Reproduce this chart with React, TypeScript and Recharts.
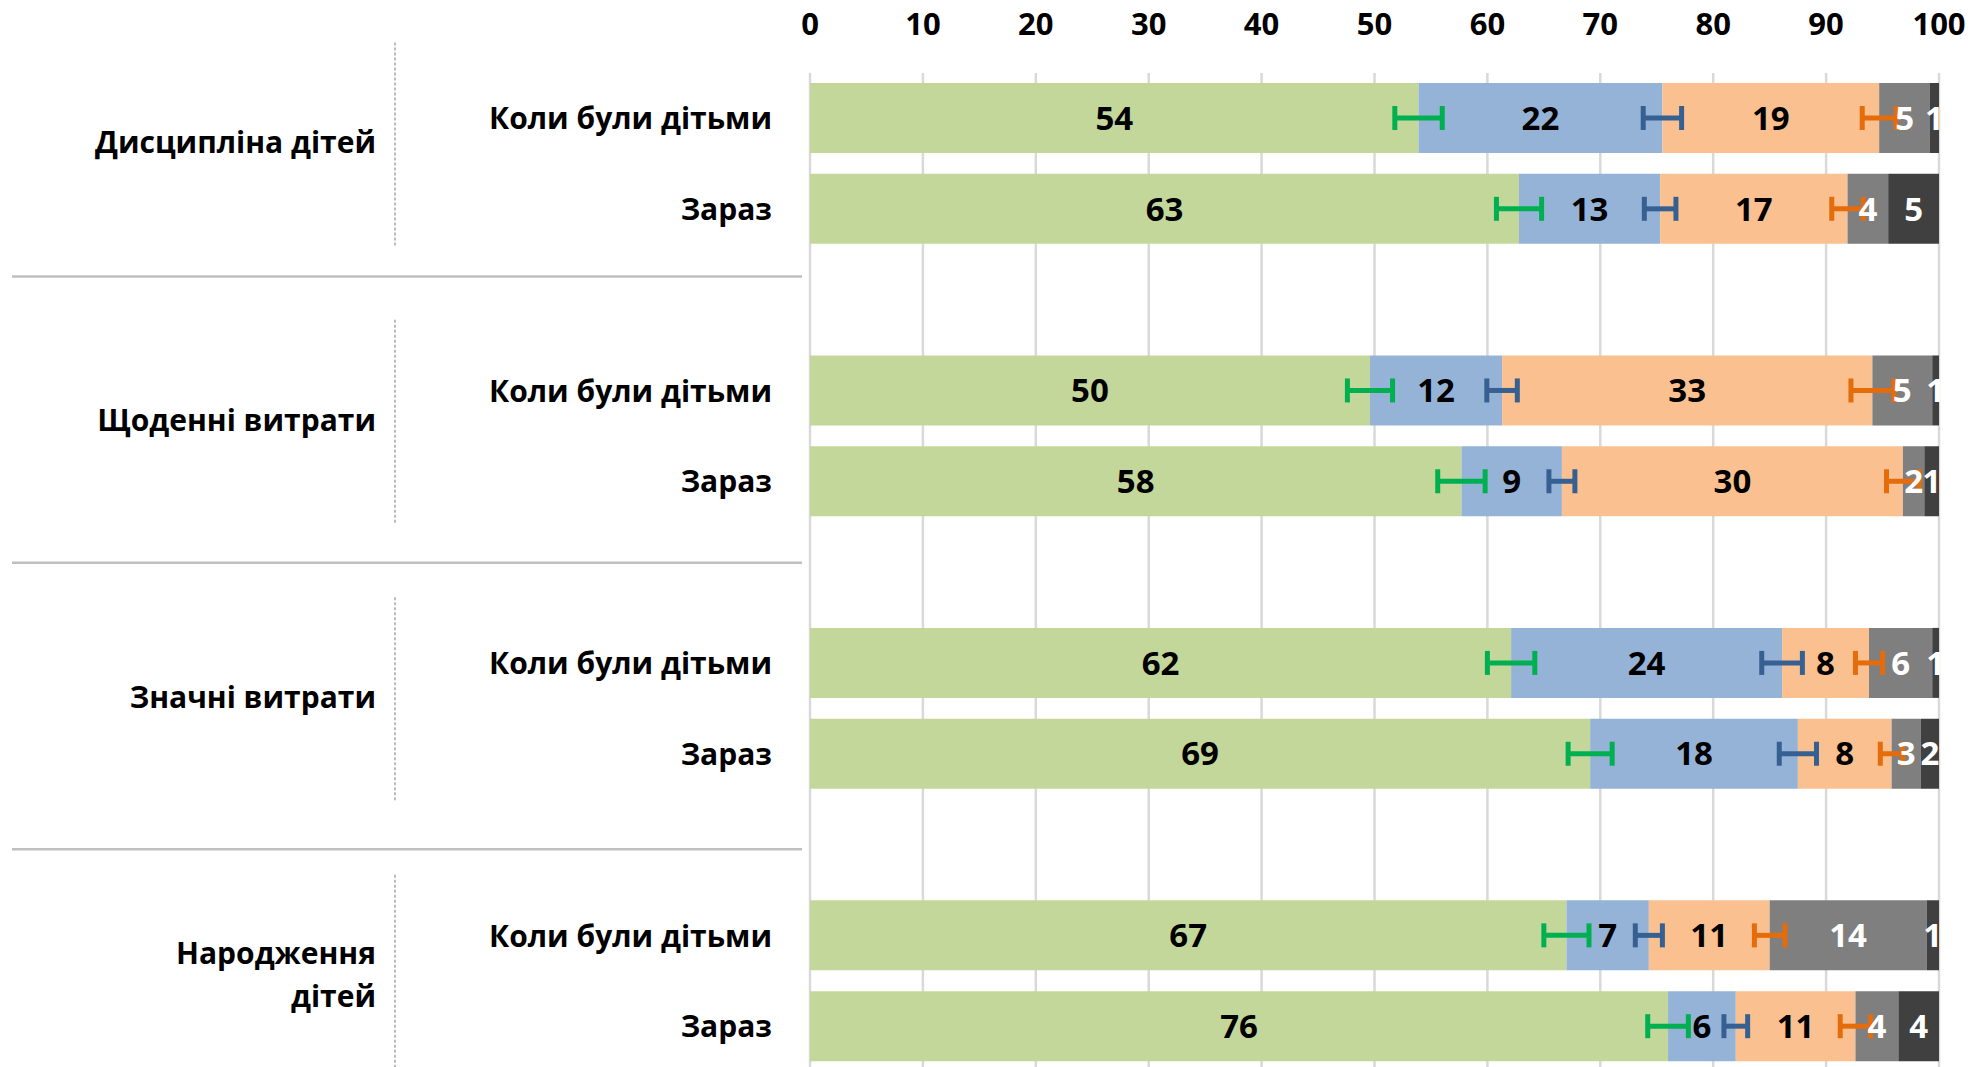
import { BarChart, Bar, XAxis, YAxis, CartesianGrid, ErrorBar, LabelList } from 'recharts';

const FONT = '"Open Sans", "Noto Sans", sans-serif';

const groups = ['Дисципліна дітей', 'Щоденні витрати', 'Значні витрати', 'Народження\nдітей'];
const periods = ['Коли були дітьми', 'Зараз'];
const xTicks = [0, 10, 20, 30, 40, 50, 60, 70, 80, 90, 100];

// values in row order: group 1 (then, now), group 2 (then, now), ...
const seriesA = [53.9, 62.8, 49.6, 57.7, 62.1, 69.1, 67.0, 76.0];
const seriesB = [21.6, 12.5, 11.7, 8.9, 24.0, 18.4, 7.3, 6.0];
const seriesC = [19.2, 16.6, 32.8, 30.2, 7.7, 8.3, 10.7, 10.6];
const seriesD = [4.5, 3.6, 5.3, 1.9, 5.6, 2.6, 13.9, 3.8];
const seriesE = [0.8, 4.5, 0.6, 1.3, 0.6, 1.6, 1.1, 3.6];

// +/- error for the first three series
const errA = [2.1, 2.0, 2.0, 2.1, 2.1, 1.95, 2.0, 1.8];
const errB = [1.7, 1.4, 1.35, 1.15, 1.8, 1.65, 1.2, 1.05];
const errC = [1.5, 1.4, 1.9, 1.45, 1.2, 1.0, 1.35, 1.35];

const SERIES = [
  { key: 'a', fill: '#C4D79B', label: '#000', err: '#00B050' },
  { key: 'b', fill: '#95B3D7', label: '#000', err: '#376092' },
  { key: 'c', fill: '#FAC090', label: '#000', err: '#E46C0A' },
  { key: 'd', fill: '#7F7F7F', label: '#fff', err: null },
  { key: 'e', fill: '#404040', label: '#fff', err: null },
];

type Row = Record<string, any>;
const rows: Row[] = [];
groups.forEach((group, gi) => {
  periods.forEach((period, pi) => {
    const i = gi * 2 + pi;
    rows.push({
      key: `${gi}-${pi}`,
      group,
      period,
      gi,
      first: pi === 0,
      a: seriesA[i],
      b: seriesB[i],
      c: seriesC[i],
      d: seriesD[i],
      e: seriesE[i],
      aErr: errA[i],
      bErr: errB[i],
      cErr: errC[i],
    });
  });
  if (gi < groups.length - 1) {
    rows.push({ key: `gap-${gi}`, a: null, b: null, c: null, d: null, e: null });
  }
});

const textStyle = { fontFamily: FONT, fontWeight: 700, fontSize: 30, fill: '#000' };

function RowTick(props: any) {
  const { x, y, payload } = props;
  const row = rows.find((r) => r.key === payload.value);
  if (!row || !row.period) return <g />;

  let groupPart = null;
  if (row.first) {
    const g = row.gi;
    const labelY = y + 24 + 5 * g;
    const sepY = y + 158 + 14 * g;
    const lines = String(row.group).split('\n');
    const lh = 43;
    groupPart = (
      <g>
        <text x={x - 396} y={labelY} textAnchor="end" style={textStyle}>
          {lines.map((ln, li) => (
            <tspan key={li} x={x - 396} dy={li === 0 ? `${0.36 * 30 - ((lines.length - 1) * lh) / 2}` : lh}>
              {ln}
            </tspan>
          ))}
        </text>
        <line x1={x - 377} x2={x - 377} y1={labelY - 100} y2={labelY + 105} stroke="#A6A6A6" strokeWidth={1.5} strokeDasharray="3 2" />
        {g < groups.length - 1 && (
          <line x1={x - 760} x2={x + 30} y1={sepY} y2={sepY} stroke="#BFBFBF" strokeWidth={2.5} />
        )}
      </g>
    );
  }

  return (
    <g>
      <text x={x} y={y} dy="0.36em" textAnchor="end" style={textStyle}>
        {row.period}
      </text>
      {groupPart}
    </g>
  );
}

const fmt = (v: any) => (v == null ? '' : Math.round(Number(v)));

export default function App() {
  return (
    <div style={{ position: 'absolute', left: 0, top: 0, width: 1977, height: 1067, overflow: 'hidden', background: '#fff' }}>
      <BarChart
        width={1977}
        height={1072}
        data={rows}
        layout="vertical"
        barSize={70}
        margin={{ top: 0, right: 38, bottom: 0, left: 0 }}
      >
        <CartesianGrid horizontal={false} stroke="#D9D9D9" strokeWidth={2.5} />
        <XAxis
          type="number"
          orientation="top"
          domain={[0, 100]}
          ticks={xTicks}
          interval={0}
          height={73}
          tickSize={0}
          tickMargin={38}
          axisLine={false}
          tickLine={false}
          allowDataOverflow
          tick={{ fill: '#000', fontSize: 31, fontWeight: 700, fontFamily: FONT }}
        />
        <YAxis
          type="category"
          dataKey="key"
          width={810}
          interval={0}
          tickSize={0}
          tickMargin={38}
          axisLine={false}
          tickLine={false}
          tick={(p: any) => <RowTick {...p} />}
        />
        <XAxis xAxisId="o" type="number" domain={[0, 100]} allowDataOverflow hide />
        <YAxis yAxisId="o" type="category" dataKey="key" hide />
        {SERIES.map((s) => (
          <Bar key={s.key} dataKey={s.key} stackId="main" fill={s.fill} isAnimationActive={false} />
        ))}
        {SERIES.map((s) => (
          <Bar
            key={`${s.key}-over`}
            dataKey={s.key}
            stackId="over"
            xAxisId="o"
            yAxisId="o"
            fill="transparent"
            isAnimationActive={false}
          >
            {s.err && (
              <ErrorBar dataKey={`${s.key}Err`} direction="x" stroke={s.err} strokeWidth={5} width={12} />
            )}
            <LabelList
              dataKey={s.key}
              position="center"
              formatter={fmt}
              fill={s.label}
              fontSize={33}
              fontWeight={700}
              fontFamily={FONT}
            />
          </Bar>
        ))}
      </BarChart>
    </div>
  );
}
